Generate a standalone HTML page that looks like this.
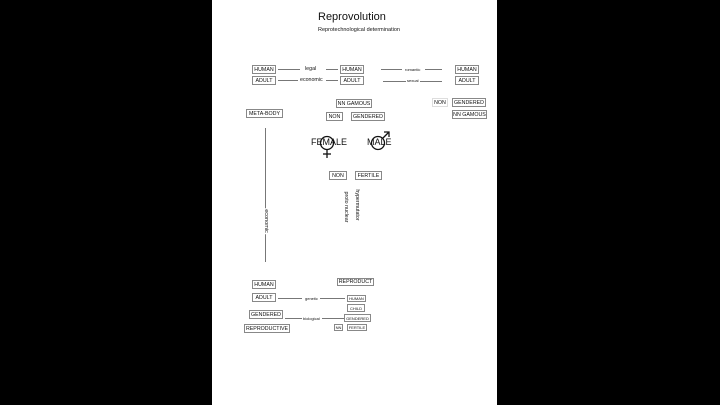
<!DOCTYPE html>
<html><head><meta charset="utf-8"><style>
html,body{margin:0;padding:0;background:#000;width:720px;height:405px;overflow:hidden}
#p{position:absolute;left:212px;top:0;width:285px;height:405px;background:#fff}
.a{position:absolute;font-family:"Liberation Sans",sans-serif;color:#111;white-space:nowrap}
.b{position:absolute;border:1px solid #888;font-family:"Liberation Sans",sans-serif;font-size:5.3px;color:#111;display:flex;align-items:center;justify-content:center;box-sizing:border-box;background:#fff}
.l{position:absolute;height:1px;background:#777}
.t{font-size:5.3px}
</style></head><body>
<div id="p"></div>
<div class="a" style="left:318px;top:11px;font-size:11px">Reprovolution</div>
<div class="a" style="left:318px;top:27px;font-size:5.5px">Reprotechnological determination</div>

<div class="b" style="left:252px;top:65px;width:24px;height:9px">HUMAN</div>
<div class="b" style="left:252px;top:76px;width:24px;height:9px">ADULT</div>
<div class="l" style="left:278px;top:69px;width:22px"></div>
<div class="a t" style="left:305px;top:66px">legal</div>
<div class="l" style="left:326px;top:69px;width:12px"></div>
<div class="l" style="left:278px;top:80px;width:20px"></div>
<div class="a t" style="left:300px;top:77px">economic</div>
<div class="l" style="left:326px;top:80px;width:12px"></div>
<div class="b" style="left:340px;top:65px;width:24px;height:9px">HUMAN</div>
<div class="b" style="left:340px;top:76px;width:24px;height:9px">ADULT</div>
<div class="l" style="left:381px;top:69px;width:21px"></div>
<div class="a" style="left:405px;top:67px;font-size:4px">romantic</div>
<div class="l" style="left:425px;top:69px;width:17px"></div>
<div class="l" style="left:383px;top:81px;width:59px"></div>
<div class="a" style="left:406px;top:78px;font-size:4px;background:#fff;padding:0 1px">sexual</div>
<div class="b" style="left:455px;top:65px;width:24px;height:9px">HUMAN</div>
<div class="b" style="left:455px;top:76px;width:24px;height:9px">ADULT</div>

<div class="b" style="left:336px;top:99px;width:36px;height:9px">NN GAMOUS</div>
<div class="b" style="left:326px;top:112px;width:17px;height:9px">NON</div>
<div class="b" style="left:351px;top:112px;width:34px;height:9px">GENDERED</div>
<div class="b" style="left:432px;top:98px;width:16px;height:9px;border-color:#ddd">NON</div>
<div class="b" style="left:452px;top:98px;width:34px;height:9px">GENDERED</div>
<div class="b" style="left:452px;top:110px;width:35px;height:9px">NN GAMOUS</div>
<div class="b" style="left:246px;top:109px;width:37px;height:9px">META-BODY</div>

<div style="position:absolute;left:265px;top:128px;width:1px;height:134px;background:#777"></div>
<div class="a" style="left:265.5px;top:221px;font-size:5.5px;transform:translate(-50%,-50%) rotate(90deg);background:#fff;padding:0 1px">economic</div>

<div class="a" style="left:311px;top:137px;font-size:9px">FEMALE</div>
<div class="a" style="left:367px;top:137px;font-size:9px">MALE</div>
<svg style="position:absolute;left:0;top:0" width="720" height="405">
<circle cx="327" cy="143" r="6.5" fill="none" stroke="#111" stroke-width="1.3"/>
<line x1="327" y1="149.5" x2="327" y2="158" stroke="#111" stroke-width="1.3"/>
<line x1="323" y1="154" x2="331" y2="154" stroke="#111" stroke-width="1.3"/>
<circle cx="378" cy="143" r="6.5" fill="none" stroke="#111" stroke-width="1.3"/>
<line x1="382.5" y1="138.5" x2="389" y2="132" stroke="#111" stroke-width="1.3"/>
<polyline points="384,132 389,132 389,137" fill="none" stroke="#111" stroke-width="1.3"/>
</svg>

<div class="b" style="left:329px;top:171px;width:18px;height:9px">NON</div>
<div class="b" style="left:355px;top:171px;width:27px;height:9px">FERTILE</div>
<div class="a" style="left:346px;top:207px;font-size:5.3px;transform:translate(-50%,-50%) rotate(90deg)">proto nuclear</div>
<div class="a" style="left:357px;top:205px;font-size:5.3px;transform:translate(-50%,-50%) rotate(90deg)">hypermutator</div>

<div class="b" style="left:252px;top:280px;width:24px;height:9px">HUMAN</div>
<div class="b" style="left:252px;top:293px;width:24px;height:9px">ADULT</div>
<div class="b" style="left:337px;top:278px;width:37px;height:8px">REPRODUCT</div>
<div class="l" style="left:278px;top:298px;width:24px"></div>
<div class="a" style="left:305px;top:296px;font-size:4px">genetic</div>
<div class="l" style="left:320px;top:298px;width:25px"></div>
<div class="b" style="left:347px;top:295px;width:19px;height:7px;font-size:4px">HUMAN</div>
<div class="b" style="left:347px;top:304px;width:18px;height:8px;font-size:4px">CHILD</div>
<div class="b" style="left:249px;top:310px;width:34px;height:9px">GENDERED</div>
<div class="l" style="left:285px;top:318px;width:17px"></div>
<div class="a" style="left:303px;top:316px;font-size:4px">biological</div>
<div class="l" style="left:322px;top:318px;width:22px"></div>
<div class="b" style="left:344px;top:314px;width:27px;height:8px;font-size:4px">GENDERED</div>
<div class="b" style="left:244px;top:324px;width:46px;height:9px">REPRODUCTIVE</div>
<div class="b" style="left:334px;top:324px;width:9px;height:7px;font-size:4px">NN</div>
<div class="b" style="left:347px;top:324px;width:20px;height:7px;font-size:4px">FERTILE</div>
</body></html>
